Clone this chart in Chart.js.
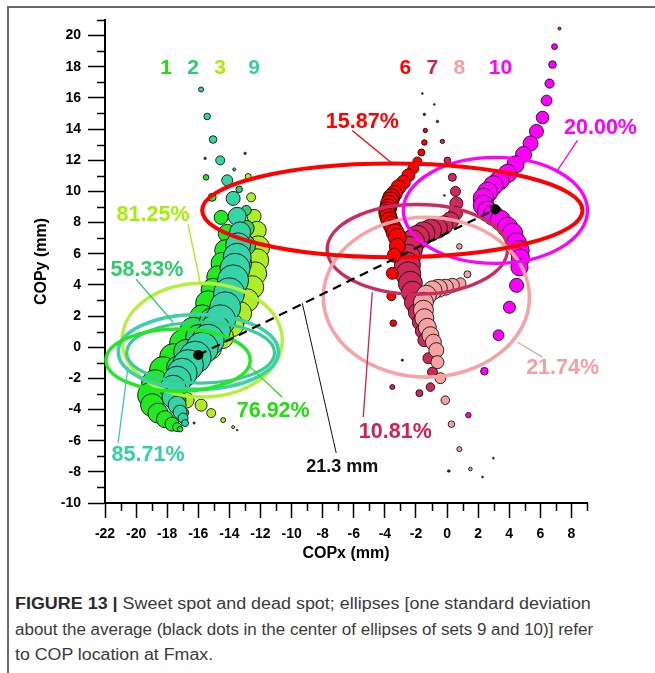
<!DOCTYPE html>
<html>
<head>
<meta charset="utf-8">
<script src="https://cdn.jsdelivr.net/npm/chart.js@4.4.0/dist/chart.umd.min.js"></script>
<style>
  html, body { margin: 0; padding: 0; background: #fff; }
  body { width: 655px; height: 673px; position: relative; overflow: hidden; font-family: "Liberation Sans", Arial, sans-serif; }
  #frame { position: absolute; left: 7px; top: 6px; width: 720px; height: 720px; border-top: 2px solid #6a6a6a; border-left: 2px solid #6a6a6a; }
  #wrap { position: absolute; left: 0; top: 0; width: 655px; height: 570px; }
  #caption { position: absolute; left: 15px; top: 591px; font-size: 16px; line-height: 25.5px; color: #3a3a3a; }
  #caption div { white-space: nowrap; width: max-content; transform-origin: 0 50%; }
  #caption b { color: #2a2a2a; }
</style>
</head>
<body>
<div id="frame"></div>
<div id="wrap"><canvas id="c" width="655" height="570"></canvas></div>
<div id="caption">
  <div data-w="576"><b>FIGURE 13 |</b> Sweet spot and dead spot; ellipses [one standard deviation</div>
  <div data-w="578">about the average (black dots in the center of ellipses of sets 9 and 10)] refer</div>
  <div data-w="198">to COP location at Fmax.</div>
</div>
<script>
// COP trajectories, one row per sample: [COPx (mm), COPy (mm), bubble radius]
const set1 = [
  [-15.56,12.12,1.3],[-15.50,10.90,2.8],[-15.11,9.62,4],[-14.53,8.33,7],[-14.14,7.31,9],
  [-14.27,6.22,10.5],[-14.47,5.38,11],[-14.72,4.49,11.5],[-15.05,3.65,12],[-15.37,2.82,12.5],
  [-15.75,1.92,12.5],[-16.33,1.09,13],[-16.98,0.26,13.5],[-17.62,-0.64,13.5],[-18.27,-1.47,13.5],
  [-18.78,-2.31,13.5],[-19.10,-3.08,12.5],[-18.97,-3.72,11.5],[-18.59,-4.23,10],[-18.14,-4.62,8.5],
  [-17.69,-4.94,7],[-17.36,-5.13,4.5],[-17.17,-5.26,2.8]
];
const set2 = [
  [-12.99,12.44,1.3],[-13.69,11.41,1.5],[-13.37,10.13,3.3],[-12.92,8.78,5],[-12.92,7.63,8],
  [-12.99,6.54,10.5],[-13.31,5.38,11.5],[-13.63,4.29,12.5],[-14.27,3.01,12.5],[-15.11,1.73,12.5],
  [-16.01,0.64,12.5],[-16.78,-0.30,12.5],[-17.30,-1.30,11.5],[-17.60,-2.40,10],[-17.30,-3.40,8],
  [-16.90,-4.20,4.5],[-16.27,-4.87,1.2]
];
const set3 = [
  [-12.79,10.96,3],[-12.60,9.62,4.5],[-12.41,8.40,7],[-12.21,7.50,9],[-12.15,6.41,11.5],
  [-12.21,5.58,11.5],[-12.34,4.74,11.5],[-12.53,3.85,11.5],[-12.86,3.01,11.5],[-13.31,2.18,11.5],
  [-13.82,1.41,11.5],[-14.47,0.64,11.5],[-15.24,-0.06,11.5],[-16.01,-0.71,11.5],[-16.78,-1.35,11.5],
  [-17.49,-1.99,10.5],[-17.81,-2.76,9],[-16.78,-3.40,8],[-15.82,-3.72,6],[-15.17,-4.23,4.5],
  [-14.40,-4.68,2.5],[-13.76,-5.13,1.5],[-13.50,-5.32,1]
];
const set9 = [
  [-15.82,16.54,2.5],[-15.43,14.81,3.3],[-15.05,13.33,3.8],[-14.59,11.99,4.5],[-14.14,10.71,5.5],
  [-13.76,9.55,7],[-13.50,8.40,9],[-13.31,7.37,10.5],[-13.44,6.54,12.5],[-13.50,5.77,14],
  [-13.63,5.06,15],[-13.76,4.29,15.5],[-14.02,3.46,15.5],[-14.27,2.56,15.5],[-14.59,1.73,15.5],
  [-14.92,1.09,15.5],[-15.37,0.45,16],[-15.75,-0.06,16],[-16.20,-0.64,16],[-16.66,-1.15,15.5],
  [-17.04,-1.67,15],[-17.36,-2.12,14],[-17.62,-2.63,13],[-17.62,-3.21,11],[-17.36,-3.72,9],
  [-17.17,-4.17,7],[-16.98,-4.55,5],[-16.85,-4.87,3.5]
];
const set6 = [
  [-1.46,14.94,1.3],[-1.40,13.91,2.2],[-1.46,13.14,2.8],[-1.65,12.50,3.5],[-1.91,11.92,4.5],
  [-2.17,11.47,5.5],[-2.49,11.03,6.5],[-2.81,10.58,7],[-3.13,10.26,7.5],[-3.39,9.87,8],
  [-3.58,9.62,8.5],[-3.65,9.42,8.5],[-3.74,9.20,8.5],[-3.78,8.97,8.5],[-3.84,8.78,8.5],
  [-3.84,8.59,8.5],[-3.78,8.36,8.5],[-3.71,8.14,8.5],[-3.58,7.88,8.5],[-3.46,7.63,8.5],
  [-3.33,7.34,9],[-3.20,7.05,9],[-3.20,6.47,8],[-3.39,5.90,7],[-3.52,4.74,6],
  [-3.58,3.27,4.5],[-3.46,1.54,3.3],[-2.88,-0.83,1.2]
];
const set7 = [
  [-1.59,16.28,1],[-0.82,15.58,1],[-0.62,14.49,1.3],[-0.30,13.21,2.2],[0.02,11.99,3.3],
  [0.34,10.90,4],[-0.17,9.74,1],[0.54,10.00,5],[0.60,9.23,6.5],[0.54,8.59,7],
  [0.22,8.14,8.5],[-0.24,7.82,9.5],[-0.62,7.63,10],[-1.07,7.50,11],[-1.52,7.31,11.5],
  [-1.91,7.05,12],[-2.23,6.73,12.5],[-2.42,6.28,13],[-2.55,5.77,13],[-2.55,5.26,13],
  [-2.49,4.68,12.5],[-2.36,4.10,12],[-2.23,3.53,11],[-2.10,2.88,10],[-1.91,2.24,9],
  [-1.72,1.60,8],[-1.59,1.03,7],[-1.46,0.45,6.5],[-1.20,-0.71,5.5],[-0.94,-1.60,5],
  [-1.07,-2.56,4.3],[-1.78,-2.95,3.5],[-3.52,-2.56,2.5],[0.15,-7.95,1],[2.28,-8.33,1],[2.98,-7.12,1]
];
const set8 = [
  [0.79,6.47,2.8],[1.31,4.68,3.5],[0.86,4.10,5.5],[0.34,3.97,7],[-0.11,3.85,8],
  [-0.56,3.78,9],[-0.94,3.65,9.5],[-1.33,3.33,10],[-1.52,2.88,10],[-1.52,2.37,10],
  [-1.46,1.86,9.5],[-1.27,1.28,9],[-1.07,0.77,8.5],[-0.88,0.32,8],[-0.69,-0.19,7.5],
  [-0.62,-0.96,6.5],[-0.43,-1.99,5.5],[-0.11,-3.40,4.3],[0.28,-4.94,3.3],[0.79,-6.54,2.5],
  [1.50,-7.82,1.8]
];
const set10 = [
  [7.23,20.45,1.5],[6.91,19.29,2.9],[6.78,18.14,3.8],[6.59,16.92,4.6],[6.40,15.83,5.4],
  [6.14,14.74,6.3],[5.75,13.85,7],[5.37,13.08,7.5],[4.92,12.37,8],[4.40,11.73,8.6],
  [3.89,11.15,9.2],[3.37,10.71,9.7],[2.98,10.38,9.7],[2.60,9.94,10.2],[2.34,9.55,10.2],
  [2.34,9.10,10.2],[2.60,8.72,10.2],[2.98,8.46,10.2],[3.43,8.14,10.2],[3.89,7.69,10.2],
  [4.21,7.31,10.2],[4.47,6.73,9.7],[4.66,6.22,9.7],[4.72,5.71,9.2],[4.66,5.13,8.6],
  [4.47,3.97,7],[4.01,2.56,6],[3.31,0.77,5.4],[2.40,-1.54,3.8],[1.37,-4.36,2.7],
  [0.09,-7.95,1.2]
];

// Mean COP of sets 9 and 10 (centres of their ellipses)
const meanSet9 = [-16.0, -0.5];
const meanSet10 = [3.1, 8.85];

// One-SD ellipses: [centre x, centre y, SD x, SD y]
const ellipse1 = [-17.3, -0.83, 4.64, 2.0];
const ellipse2 = [-15.85, -0.35, 4.75, 1.95];
const ellipse3 = [-15.75, 0.45, 5.15, 3.65];
const ellipse9 = [-16.0, -0.3, 5.15, 2.4];
const ellipse6 = [-3.52, 8.78, 12.23, 3.01];
const ellipse7 = [-1.91, 6.28, 5.80, 2.88];
const ellipse8 = [-1.33, 3.21, 6.63, 5.13];
const ellipse10 = [3.11, 8.78, 5.92, 3.40];

// Sweet-spot percentages per set
const setNames = ['1', '2', '3', '9', '6', '7', '8', '10'];
const percents = ['76.92%', '58.33%', '81.25%', '85.71%', '15.87%', '10.81%', '21.74%', '20.00%'];
const distanceLabel = '21.3 mm';

const xTicks = [-22, -20, -18, -16, -14, -12, -10, -8, -6, -4, -2, 0, 2, 4, 6, 8];
const yTicks = [-10, -8, -6, -4, -2, 0, 2, 4, 6, 8, 10, 12, 14, 16, 18, 20];

const colors = {
  '1': '#22ea22', '2': '#36cc6e', '3': '#afee26', '9': '#35d4a6',
  '6': '#ff0000', '7': '#d1285a', '8': '#f6a2a2', '10': '#ff00ff'
};
const labelColors = {
  '1': '#22dd11', '2': '#2ecc6a', '3': '#a6ee0a', '9': '#33d0a2',
  '6': '#ff0000', '7': '#cc2255', '8': '#f4a0a0', '10': '#ff00ff'
};

const toPts = rows => rows.map(([x, y, r]) => ({ x, y, r }));
const dark = { '1': '#1b5a1b', '2': '#1d5a3a', '3': '#4d6a12', '9': '#1c5a48',
               '6': '#7a0000', '7': '#5a1030', '8': '#7a4040', '10': '#6a006a' };

function bubbleSet(name, rows) {
  return {
    type: 'bubble',
    label: 'Set ' + name,
    data: toPts(rows),
    backgroundColor: ctx => (ctx.raw && ctx.raw.r <= 1.3) ? dark[name] : colors[name],
    borderColor: '#111',
    borderWidth: ctx => (ctx.raw && ctx.raw.r <= 1.3) ? 0.5 : 0.9,
    hoverBorderWidth: 0.9,
    clip: false
  };
}

// Annotation placement (data coordinates)
const labelLayout = {
  setNumbers: { y: 17.88, x: { '1': -18.07, '2': -16.33, '3': -14.59, '9': -12.41, '6': -2.68, '7': -0.94, '8': 0.79, '10': 3.43 } },
  percents: [
    { set: '3', text: 2, at: [-18.91, 8.46], line: [[-16.66, 7.88], [-15.88, 4.17]] },
    { set: '2', text: 1, at: [-19.30, 4.94], line: [[-20.0, 4.36], [-17.62, 1.60]] },
    { set: '1', text: 0, at: [-11.18, -4.10], line: [[-10.60, -3.21], [-12.66, -1.28]] },
    { set: '9', text: 3, at: [-19.23, -6.92], line: [[-21.16, -6.15], [-20.52, -1.28]] },
    { set: '6', text: 4, at: [-5.45, 14.42], line: [[-6.10, 13.91], [-3.52, 11.79]] },
    { set: '7', text: 5, at: [-3.33, -5.45], line: [[-5.39, -4.49], [-4.81, 3.53]] },
    { set: '8', text: 6, at: [7.43, -1.35], line: [[6.14, -0.64], [4.53, 0.32]] },
    { set: '10', text: 7, at: [9.87, 14.04], line: [[8.39, 13.27], [7.10, 11.35]] }
  ],
  distance: { at: [-6.74, -7.69], line: [[-7.13, -6.79], [-9.31, 2.82]] }
};

const ellipseList = [
  [ellipse3, '#b2f03a', 3.4], [ellipse9, '#3cd0ac', 3.6], [ellipse2, '#38cc90', 3.2], [ellipse1, '#22e822', 3.4],
  [ellipse7, '#cc2b5e', 3.4], [ellipse8, '#f8a3a3', 3.6], [ellipse10, '#ff00ff', 3.4], [ellipse6, '#ff0000', 4]
];

const overlay = {
  id: 'overlay',
  beforeDatasetDraw(chart, args) {
    if (args.index !== 0) return;
    const { ctx, scales: { x, y } } = chart;
    ctx.save();
    for (const [e, col, w] of ellipseList) {
      const cx = x.getPixelForValue(e[0]), cy = y.getPixelForValue(e[1]);
      const rx = Math.abs(x.getPixelForValue(e[0] + e[2]) - cx);
      const ry = Math.abs(y.getPixelForValue(e[1] + e[3]) - cy);
      ctx.beginPath();
      ctx.ellipse(cx, cy, rx, ry, 0, 0, Math.PI * 2);
      ctx.strokeStyle = col;
      ctx.lineWidth = w;
      ctx.stroke();
    }
    ctx.restore();
  },
  afterDatasetsDraw(chart) {
    const { ctx, scales: { x, y } } = chart;
    const P = (p) => [x.getPixelForValue(p[0]), y.getPixelForValue(p[1])];
    ctx.save();
    ctx.textAlign = 'center';
    ctx.textBaseline = 'middle';
    // set numbers
    ctx.font = 'bold 21px "Liberation Sans", Arial, sans-serif';
    for (const n of setNames) {
      const [px, py] = P([labelLayout.setNumbers.x[n], labelLayout.setNumbers.y]);
      ctx.fillStyle = labelColors[n];
      ctx.fillText(n, px, py);
    }
    // percent labels with leader lines
    ctx.font = 'bold 21.5px "Liberation Sans", Arial, sans-serif';
    for (const a of labelLayout.percents) {
      const c = labelColors[a.set];
      const [p1, p2] = a.line.map(P);
      ctx.beginPath(); ctx.moveTo(p1[0], p1[1]); ctx.lineTo(p2[0], p2[1]);
      ctx.strokeStyle = c; ctx.lineWidth = 1.3; ctx.stroke();
      const [tx, ty] = P(a.at);
      ctx.fillStyle = c;
      ctx.fillText(percents[a.text], tx, ty);
    }
    // distance between means
    const d = labelLayout.distance;
    const [q1, q2] = d.line.map(P);
    ctx.beginPath(); ctx.moveTo(q1[0], q1[1]); ctx.lineTo(q2[0], q2[1]);
    ctx.strokeStyle = '#111'; ctx.lineWidth = 1; ctx.stroke();
    ctx.font = 'bold 18px "Liberation Sans", Arial, sans-serif';
    ctx.fillStyle = '#111';
    const [dx, dy] = P(d.at);
    ctx.fillText(distanceLabel, dx, dy);
    ctx.restore();
  },
  afterDraw(chart) {
    // minor tick marks at odd values
    const { ctx, scales: { x, y }, chartArea } = chart;
    ctx.save();
    ctx.strokeStyle = '#000';
    ctx.lineWidth = 1.5;
    for (let v = x.min + 1; v <= x.max; v += 2) {
      const px = Math.round(x.getPixelForValue(v)) + 0.5;
      ctx.beginPath(); ctx.moveTo(px, chartArea.bottom); ctx.lineTo(px, chartArea.bottom + 8); ctx.stroke();
    }
    for (let v = y.min + 1; v <= y.max; v += 2) {
      const py = Math.round(y.getPixelForValue(v)) + 0.5;
      ctx.beginPath(); ctx.moveTo(chartArea.left - 8, py); ctx.lineTo(chartArea.left, py); ctx.stroke();
    }
    ctx.restore();
  }
};

const axisFont = { family: '"Liberation Sans", Arial, sans-serif', size: 14, weight: 'bold' };

new Chart(document.getElementById('c'), {
  type: 'bubble',
  data: {
    datasets: [
      {
        type: 'line',
        label: 'Means',
        data: [{ x: meanSet9[0], y: meanSet9[1] }, { x: meanSet10[0], y: meanSet10[1] }],
        borderColor: '#000',
        borderWidth: 2.2,
        borderDash: [9, 6],
        pointRadius: 4,
        pointBackgroundColor: '#000',
        pointBorderColor: '#000',
        fill: false,
        clip: false
      },
      bubbleSet('9', set9),
      bubbleSet('2', set2),
      bubbleSet('3', set3),
      bubbleSet('1', set1),
      bubbleSet('6', set6),
      bubbleSet('8', set8),
      bubbleSet('7', set7),
      bubbleSet('10', set10)
    ]
  },
  options: {
    responsive: false,
    animation: false,
    events: [],
    layout: { padding: { left: 0, right: 68, top: 20, bottom: 0 } },
    plugins: { legend: { display: false }, tooltip: { enabled: false } },
    scales: {
      x: {
        type: 'linear', position: 'bottom', min: -22, max: 9,
        afterBuildTicks: s => { s.ticks = xTicks.map(v => ({ value: v })); },
        afterFit: s => { s.height = 67; },
        ticks: { font: axisFont, color: '#000', padding: 8, maxRotation: 0, autoSkip: false, includeBounds: false },
        grid: { display: true, drawOnChartArea: false, drawTicks: true, tickLength: 15, tickWidth: 1.5, tickColor: '#000' },
        border: { display: true, color: '#000', width: 2 },
        title: { display: true, text: 'COPx (mm)', color: '#000', font: { family: axisFont.family, size: 16, weight: 'bold' }, padding: { top: 0, bottom: 7 } }
      },
      y: {
        type: 'linear', position: 'left', min: -10, max: 21,
        afterBuildTicks: s => { s.ticks = yTicks.map(v => ({ value: v })); },
        afterFit: s => { s.width = 105; },
        ticks: { font: axisFont, color: '#000', padding: 7, autoSkip: false, includeBounds: false },
        grid: { display: true, drawOnChartArea: false, drawTicks: true, tickLength: 17, tickWidth: 1.5, tickColor: '#000' },
        border: { display: true, color: '#000', width: 2 },
        title: { display: true, text: 'COPy (mm)', color: '#000', font: { family: axisFont.family, size: 16, weight: 'bold' }, padding: { top: 32, bottom: 0 } }
      }
    }
  },
  plugins: [overlay]
});

// Fit each caption line to its column width
(function () {
  document.querySelectorAll('#caption div').forEach(l => {
    const k = Number(l.dataset.w) / l.getBoundingClientRect().width;
    l.style.transform = 'scaleX(' + k.toFixed(3) + ')';
  });
})();
</script>
</body>
</html>
